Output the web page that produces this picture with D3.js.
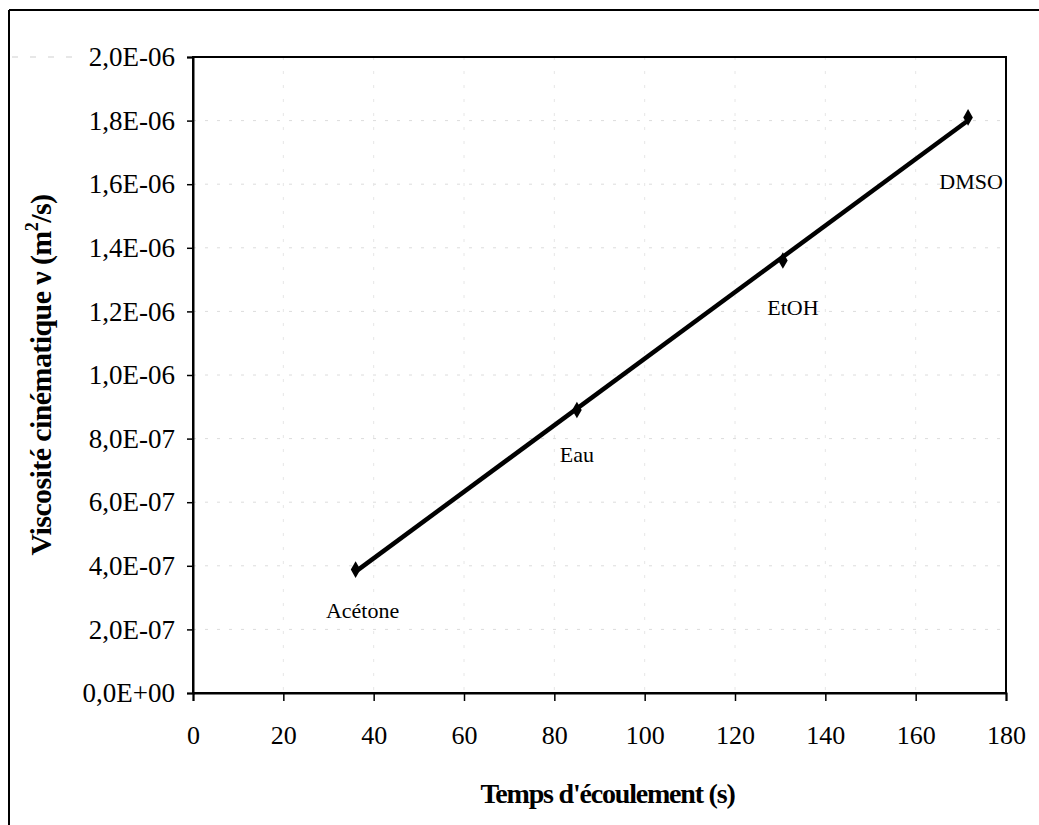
<!DOCTYPE html>
<html>
<head>
<meta charset="utf-8">
<script src="https://cdn.jsdelivr.net/npm/d3@7"></script>
<style>
  html, body { margin: 0; padding: 0; background: #fff; }
  svg { display: block; }
  text { font-family: "Liberation Serif", "Times New Roman", serif; fill: #000; }
</style>
</head>
<body>
<svg id="chart" width="1039" height="825"></svg>
<script>
// ---- data ----
const solvents = ["Acétone", "Eau", "EtOH", "DMSO"];
const flowTimes = [36, 85, 130.6, 171.6];            // s
const viscosities = [3.88e-7, 8.9e-7, 1.36e-6, 1.81e-6]; // m²/s
const xTicks = [0, 20, 40, 60, 80, 100, 120, 140, 160, 180];
const yTicks = [0, 2e-7, 4e-7, 6e-7, 8e-7, 1e-6, 1.2e-6, 1.4e-6, 1.6e-6, 1.8e-6, 2e-6];
const yTickLabels = ["0,0E+00","2,0E-07","4,0E-07","6,0E-07","8,0E-07","1,0E-06","1,2E-06","1,4E-06","1,6E-06","1,8E-06","2,0E-06"];
const labelOffsets = [[7, 43], [0, 47], [10, 49], [3, 67]]; // label placement relative to points (px)

const svg = d3.select("#chart");
const L = 193, R = 1006, T = 57, B = 693;

const x = d3.scaleLinear().domain([0, 180]).range([L, R]);
const y = d3.scaleLinear().domain([0, 2e-6]).range([B, T]);

// outer frame (scanned page: top and left visible)
svg.append("line").attr("x1", 9).attr("x2", 1039).attr("y1", 10).attr("y2", 10)
  .attr("stroke", "#000").attr("stroke-width", 2);
svg.append("line").attr("x1", 9).attr("x2", 9).attr("y1", 10).attr("y2", 825)
  .attr("stroke", "#000").attr("stroke-width", 2);

// faint gridlines
const g = svg.append("g");
g.selectAll("line.hg").data(yTicks.slice(1, -1)).enter().append("line")
  .attr("x1", L).attr("x2", R).attr("y1", d => y(d)).attr("y2", d => y(d))
  .attr("stroke", "#dcdcdc").attr("stroke-width", 1).attr("stroke-dasharray", "3,9");
g.selectAll("line.vg").data(xTicks.slice(1, -1)).enter().append("line")
  .attr("x1", d => x(d)).attr("x2", d => x(d)).attr("y1", T).attr("y2", B)
  .attr("stroke", "#e6e6e6").attr("stroke-width", 1).attr("stroke-dasharray", "3,11");
// faint extension of the top gridline to the page edge
svg.append("line").attr("x1", 12).attr("x2", 75).attr("y1", T).attr("y2", T)
  .attr("stroke", "#cfcfcf").attr("stroke-width", 1).attr("stroke-dasharray", "6,12");

// plot frame
svg.append("rect").attr("x", L).attr("y", T).attr("width", R - L).attr("height", B - T)
  .attr("fill", "none").attr("stroke", "#000").attr("stroke-width", 2);

// axes
const xAxis = d3.axisBottom(x).tickValues(xTicks).tickSize(8).tickPadding(25)
  .tickFormat(d3.format("d"));
const gx = svg.append("g").attr("transform", `translate(0,${B})`).call(xAxis);
gx.select(".domain").attr("stroke-width", 2);
gx.selectAll(".tick line").attr("stroke-width", 1.5);
gx.selectAll("text").attr("font-size", 26).attr("font-family", "Liberation Serif");

const yAxis = d3.axisLeft(y).tickValues(yTicks).tickSize(6).tickPadding(12)
  .tickFormat((d, i) => yTickLabels[i]);
const gy = svg.append("g").attr("transform", `translate(${L},0)`).call(yAxis);
gy.select(".domain").attr("stroke-width", 2);
gy.selectAll(".tick line").attr("stroke-width", 1.5);
gy.selectAll("text").attr("font-size", 27).attr("font-family", "Liberation Serif");

// trend line (least squares through the data)
const mx = d3.mean(flowTimes), my = d3.mean(viscosities);
const slope = d3.sum(flowTimes.map((t, i) => (t - mx) * (viscosities[i] - my))) /
              d3.sum(flowTimes.map(t => (t - mx) * (t - mx)));
const icpt = my - slope * mx;
const tMin = d3.min(flowTimes), tMax = d3.max(flowTimes);
svg.append("line")
  .attr("x1", x(tMin)).attr("y1", y(icpt + slope * tMin))
  .attr("x2", x(tMax)).attr("y2", y(icpt + slope * tMax))
  .attr("stroke", "#000").attr("stroke-width", 4.5);

// markers
const sym = d3.symbol().type(d3.symbolDiamond).size(80);
svg.selectAll("path.pt").data(flowTimes).enter().append("path")
  .attr("d", sym)
  .attr("transform", (d, i) => `translate(${x(d)},${y(viscosities[i])})`)
  .attr("fill", "#000");

// point labels
svg.selectAll("text.lbl").data(solvents).enter().append("text")
  .attr("x", (d, i) => x(flowTimes[i]) + labelOffsets[i][0])
  .attr("y", (d, i) => y(viscosities[i]) + labelOffsets[i][1])
  .attr("text-anchor", "middle").attr("dominant-baseline", "middle")
  .attr("font-size", 22).text(d => d);

// axis titles
svg.append("text").attr("x", (L + R) / 2 + 8).attr("y", 797)
  .attr("text-anchor", "middle").attr("dominant-baseline", "middle")
  .attr("font-size", 28).attr("font-weight", "bold").attr("letter-spacing", -1.2)
  .text("Temps d'écoulement (s)");

const yt = svg.append("text")
  .attr("transform", `translate(44,${(T + B) / 2}) rotate(-90)`)
  .attr("text-anchor", "middle").attr("dominant-baseline", "middle")
  .attr("font-size", 30).attr("font-weight", "bold").attr("letter-spacing", -0.6);
yt.append("tspan").text("Viscosité cinématique ν (m");
yt.append("tspan").attr("baseline-shift", "super").attr("font-size", 18).text("2");
yt.append("tspan").text("/s)");
</script>
</body>
</html>
